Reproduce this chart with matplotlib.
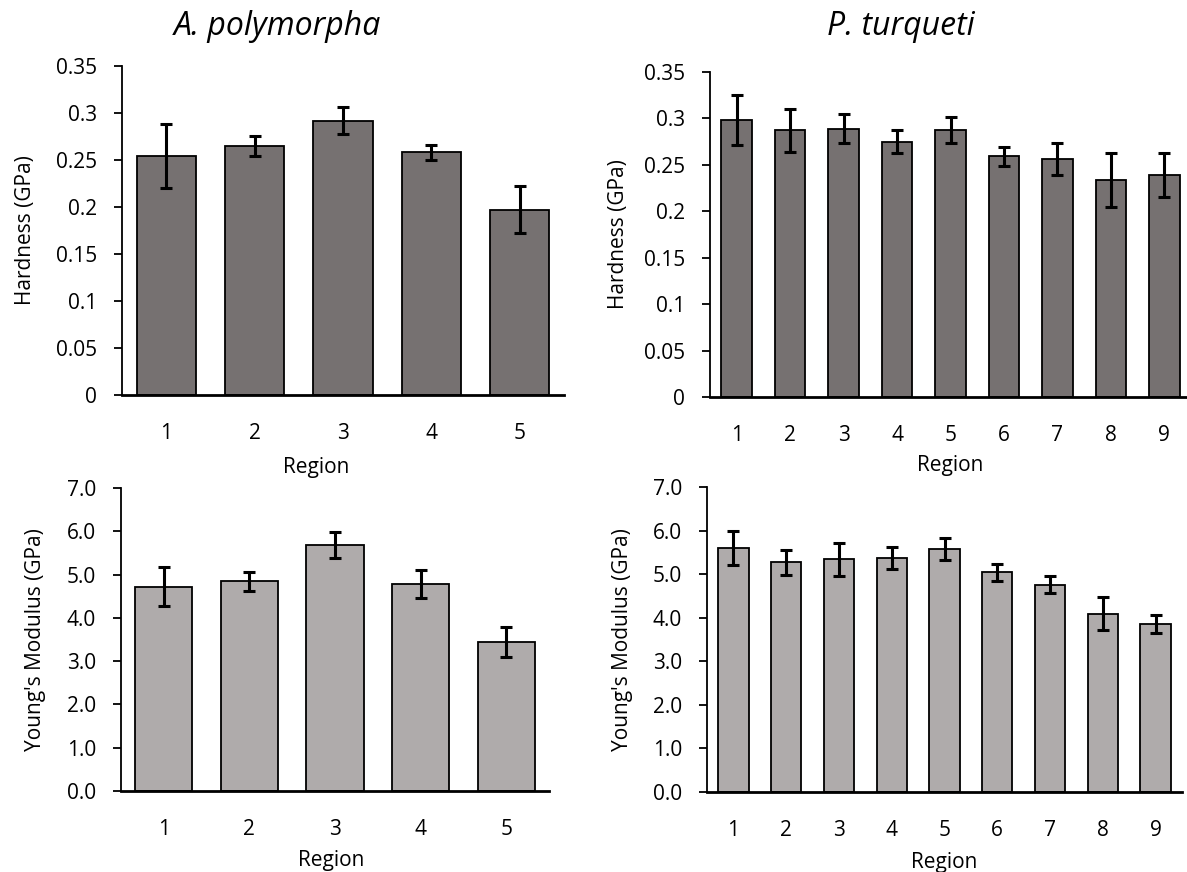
import matplotlib
matplotlib.use("Agg")
import matplotlib.pyplot as plt
import numpy as np

plt.rcParams['font.family'] = ['Open Sans', 'DejaVu Sans']

W, H = 1187, 872

# A. polymorpha
apoly_regions = ['1', '2', '3', '4', '5']
apoly_hard = [0.254, 0.265, 0.292, 0.258, 0.197]
apoly_hard_err = [0.034, 0.011, 0.014, 0.008, 0.025]
apoly_mod = [4.72, 4.84, 5.68, 4.78, 3.44]
apoly_mod_err = [0.45, 0.22, 0.30, 0.32, 0.34]

# P. turqueti
pturq_regions = ['1', '2', '3', '4', '5', '6', '7', '8', '9']
pturq_hard = [0.298, 0.287, 0.289, 0.275, 0.287, 0.259, 0.256, 0.234, 0.239]
pturq_hard_err = [0.027, 0.023, 0.016, 0.012, 0.014, 0.010, 0.017, 0.029, 0.024]
pturq_mod = [5.60, 5.27, 5.34, 5.37, 5.58, 5.04, 4.76, 4.09, 3.86]
pturq_mod_err = [0.40, 0.28, 0.38, 0.25, 0.25, 0.19, 0.20, 0.38, 0.21]

hard_ticks = [0, 0.05, 0.1, 0.15, 0.2, 0.25, 0.3, 0.35]
hard_labels = ['0', '0.05', '0.1', '0.15', '0.2', '0.25', '0.3', '0.35']
mod_ticks = [0, 1, 2, 3, 4, 5, 6, 7]
mod_labels = ['%.1f' % t for t in mod_ticks]

DARK = '#767171'
LIGHT = '#afabab'


def px_axes(fig, left, right, top, bottom):
    return fig.add_axes([left / W, 1 - bottom / H, (right - left) / W, (bottom - top) / H])


def bar_panel(ax, cats, vals, errs, color, width, ticks, labels, ylabel,
              ylab_x, xlab_x, xlab_y):
    x = np.arange(len(cats))
    ax.bar(x, vals, width=width, color=color, edgecolor='black', linewidth=1.3, zorder=2)
    ax.errorbar(x, vals, yerr=errs, fmt='none', ecolor='black', elinewidth=2.2,
                capsize=4.5, capthick=2.2, zorder=3)
    ax.set_xlim(-0.5, len(cats) - 0.5)
    ax.set_ylim(ticks[0], ticks[-1])
    ax.set_yticks(ticks)
    ax.set_yticklabels(labels)
    ax.set_xticks(x)
    ax.set_xticklabels(cats)
    for s in ['top', 'right']:
        ax.spines[s].set_visible(False)
    ax.spines['left'].set_linewidth(1.3)
    ax.spines['bottom'].set_linewidth(2.0)
    ax.tick_params(axis='y', length=6, width=1.3, pad=12, labelsize=15)
    ax.tick_params(axis='x', length=0, pad=20, labelsize=15)
    ax.set_ylabel(ylabel, fontsize=15)
    ax.yaxis.set_label_coords(ylab_x, 0.5)
    ax.set_xlabel('Region', fontsize=15)
    ax.xaxis.set_label_coords(xlab_x, xlab_y)


fig = plt.figure(figsize=(W / 100, H / 100), dpi=100)

ax1 = px_axes(fig, 122, 564, 66, 395)
bar_panel(ax1, apoly_regions, apoly_hard, apoly_hard_err, DARK, 0.67,
          hard_ticks, hard_labels, 'Hardness (GPa)',
          (36 - 122) / 442, 0.44, -0.188)

ax2 = px_axes(fig, 710, 1191, 72, 397)
bar_panel(ax2, pturq_regions, pturq_hard, pturq_hard_err, DARK, 0.57,
          hard_ticks, hard_labels, 'Hardness (GPa)',
          (629 - 710) / 481, 0.5, -0.178)

ax3 = px_axes(fig, 121, 549, 488, 791)
bar_panel(ax3, apoly_regions, apoly_mod, apoly_mod_err, LIGHT, 0.67,
          mod_ticks, mod_labels, "Young's Modulus (GPa)",
          (46 - 121) / 428, 0.49, -0.196)

ax4 = px_axes(fig, 707, 1182, 487, 792)
bar_panel(ax4, pturq_regions, pturq_mod, pturq_mod_err, LIGHT, 0.575,
          mod_ticks, mod_labels, "Young's Modulus (GPa)",
          (633 - 707) / 475, 0.5, -0.196)

fig.text(277 / W, 1 - 35 / H, 'A. polymorpha', fontsize=23, style='italic',
         ha='center', va='baseline')
fig.text(901 / W, 1 - 35 / H, 'P. turqueti', fontsize=23, style='italic',
         ha='center', va='baseline')

fig.savefig('out.png', dpi=100)
